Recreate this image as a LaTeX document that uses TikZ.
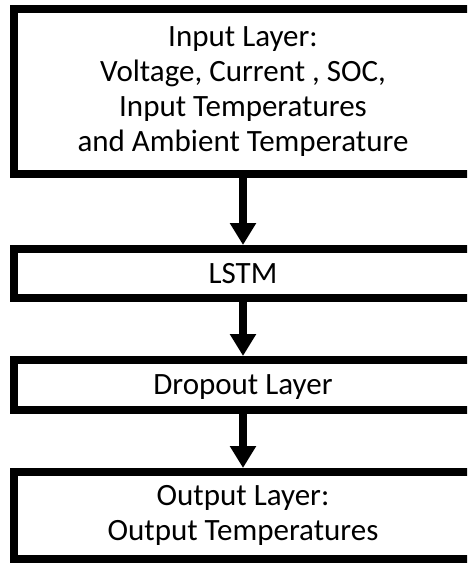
\documentclass[tikz,border=0pt]{standalone}
\usepackage{fontspec}
\setmainfont{Carlito}
\usetikzlibrary{positioning,arrows.meta}

\begin{document}
\begin{tikzpicture}[x=1pt, y=-1pt,
  every node/.style={align=center},
  font=\fontsize{31}{35}\selectfont,
  layerbox/.style={draw, rectangle, line width=8pt, fill=white, minimum width=458pt},
  flowarrow/.style={line width=8pt, -{Triangle[width=25pt, length=22pt]}}]

\useasboundingbox (0,0) rectangle (467,563);
\clip (0,0) rectangle (467,563);

% Nodes
\node (input) [layerbox, minimum height=165pt] at (243,91.5) {Input Layer:\\Voltage, Current , SOC,\\Input Temperatures\\and Ambient Temperature};
\node (lstm) [layerbox, minimum height=49pt, below=67pt of input] {LSTM};
\node (dropout) [layerbox, minimum height=50pt, below=54pt of lstm, text depth=0pt] {Dropout Layer};
\node (output) [layerbox, minimum height=87pt, below=54pt of dropout] {Output Layer:\\Output Temperatures};

% Arrows
\draw[flowarrow] (input) -- (lstm);
\draw[flowarrow] (lstm) -- (dropout);
\draw[flowarrow] (dropout) -- (output);

\end{tikzpicture}
\end{document}
